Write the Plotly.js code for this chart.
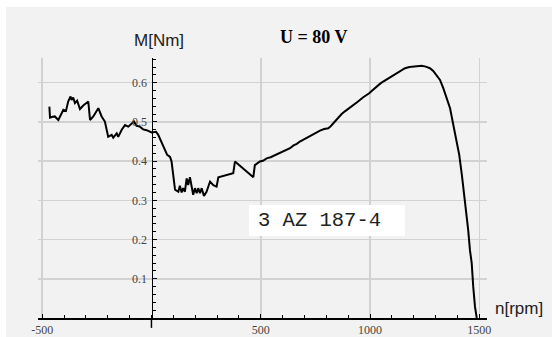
<!DOCTYPE html>
<html>
<head>
<meta charset="utf-8">
<script src="https://cdn.plot.ly/plotly-3.0.1.min.js"></script>
<style>
  html, body { margin:0; padding:0; background:#ffffff; width:552px; height:337px; overflow:hidden; }
  #chart { position:absolute; left:6px; top:7px; width:546px; height:330px; }
</style>
</head>
<body>
<div id="chart"></div>
<script>
// Speed n [rpm]
const speed = [
  -467,-464,-452,-442,-426,-414,-403,-391,-381,-370,-365,-358,-350,-340,-327,-312,-300,-289,-281,-266,
  -243,-228,-213,-198,-182,-175,-159,-152,-136,-121,-106,-91,-80,-68,-53,-38,-22,1,21,31,
  54,72,85,92,108,116,123,130,138,145,153,161,168,176,184,191,199,207,214,222,
  230,240,252,268,283,298,306,325,344,360,374,382,405,430,466,473,496,510,527,545,
  560,575,588,600,615,634,650,665,679,695,710,725,740,755,771,790,809,820,832,850,
  870,885,900,923,945,969,985,996,1010,1030,1045,1060,1075,1091,1110,1129,1145,1160,1180,1198,
  1215,1236,1255,1274,1289,1305,1320,1335,1351,1366,1381,1396,1408,1420,1434,1449,1457,1465,1472,1480,
  1488
];
// Torque M [Nm]
const torque = [
  0.539,0.511,0.513,0.514,0.505,0.518,0.531,0.528,0.552,0.565,0.556,0.562,0.548,0.554,0.533,0.542,0.547,0.552,0.505,0.514,
  0.535,0.514,0.501,0.462,0.467,0.460,0.471,0.462,0.480,0.492,0.488,0.497,0.501,0.490,0.488,0.481,0.479,0.473,0.475,0.467,
  0.437,0.416,0.411,0.399,0.327,0.325,0.322,0.337,0.320,0.331,0.322,0.356,0.339,0.359,0.339,0.314,0.331,0.318,0.331,0.318,
  0.331,0.311,0.322,0.348,0.339,0.335,0.359,0.362,0.365,0.366,0.369,0.399,0.388,0.376,0.359,0.390,0.399,0.401,0.407,0.410,
  0.414,0.416,0.420,0.423,0.428,0.433,0.440,0.444,0.450,0.455,0.460,0.464,0.469,0.474,0.478,0.482,0.484,0.489,0.497,0.509,
  0.520,0.527,0.533,0.543,0.552,0.563,0.568,0.573,0.580,0.591,0.597,0.603,0.608,0.614,0.620,0.626,0.632,0.637,0.640,0.641,
  0.642,0.643,0.641,0.637,0.630,0.618,0.607,0.586,0.560,0.535,0.492,0.450,0.416,0.365,0.301,0.224,0.173,0.140,0.080,0.029,
  0
];
const xTicks = [-500, 500, 1000, 1500];
const xTickText = ['-500', '500', '1000', '1500'];
const yTicks = [0.1, 0.2, 0.3, 0.4, 0.5, 0.6];
const yTickText = ['0.1', '0.2', '0.3', '0.4', '0.5', '0.6'];
const chartTitle = '<b>U = 80 V</b>';
const yTitle = 'M[Nm]';
const xTitle = 'n[rpm]';
const motorLabel = '3 AZ 187-4';

const tickFont = {family:'"Liberation Serif", "Times New Roman", serif', size:12, color:'#444'};
const sansFont = {family:'"Liberation Sans", Arial, sans-serif', size:17, color:'#222'};

const data = [{
  x: speed, y: torque, type:'scatter', mode:'lines',
  line:{color:'#000', width:2}, hoverinfo:'skip', showlegend:false
}];

const layout = {
  width:546, height:330,
  margin:{l:32, r:65, t:51, b:19, pad:0},
  paper_bgcolor:'#f2f2f2', plot_bgcolor:'#f2f2f2',
  showlegend:false,
  xaxis:{
    range:[-519, 1535], tickmode:'array', tickvals:xTicks, ticktext:xTickText,
    showgrid:true, gridcolor:'#d2d2d2', gridwidth:1.5,
    zeroline:false, showline:true, linecolor:'#000', linewidth:1.5,
    ticks:'inside', ticklen:4, tickcolor:'#000', tickwidth:1,
    minor:{tick0:0, dtick:100, ticks:'inside', ticklen:3, tickcolor:'#000', showgrid:false},
    tickfont:tickFont, ticklabelstandoff:0, fixedrange:true
  },
  yaxis:{
    range:[0, 0.663], tickmode:'array', tickvals:yTicks, ticktext:yTickText,
    anchor:'free', position:0.2528, side:'left',
    showgrid:true, gridcolor:'#d2d2d2', gridwidth:1.5,
    zeroline:false, showline:true, linecolor:'#000', linewidth:1.5,
    ticks:'inside', ticklen:4, tickcolor:'#000', tickwidth:1,
    minor:{tick0:0, dtick:0.02, ticks:'inside', ticklen:3, tickcolor:'#000', showgrid:false},
    tickfont:tickFont, ticklabelstandoff:2, fixedrange:true
  },
  shapes:[
    {type:'rect', xref:'x', yref:'y', x0:446, x1:1160, y0:0.209, y1:0.288,
     fillcolor:'#ffffff', line:{width:0}, layer:'above'},
    {type:'line', xref:'x', yref:'paper', x0:0, x1:0, y0:0, y1:-0.038,
     line:{color:'#000', width:1.5}}
  ],
  annotations:[
    {text:chartTitle, xref:'paper', yref:'paper', x:0.6136, y:1.081, xanchor:'center', yanchor:'middle',
     showarrow:false, font:{family:'"Liberation Serif", "Times New Roman", serif', size:18, color:'#000'}},
    {text:yTitle, xref:'paper', yref:'paper', x:0.2695, y:1.069, xanchor:'center', yanchor:'middle',
     showarrow:false, font:sansFont},
    {text:xTitle, xref:'paper', yref:'paper', x:1.0127, y:0.035, xanchor:'left', yanchor:'middle',
     showarrow:false, font:sansFont},
    {text:motorLabel, xref:'x', yref:'y', x:478, y:0.249, xanchor:'left', yanchor:'middle',
     showarrow:false, font:{family:'"Liberation Mono", "Courier New", monospace', size:20.5, color:'#222'}}
  ]
};

Plotly.newPlot('chart', data, layout, {staticPlot:true, displayModeBar:false});
</script>
</body>
</html>
